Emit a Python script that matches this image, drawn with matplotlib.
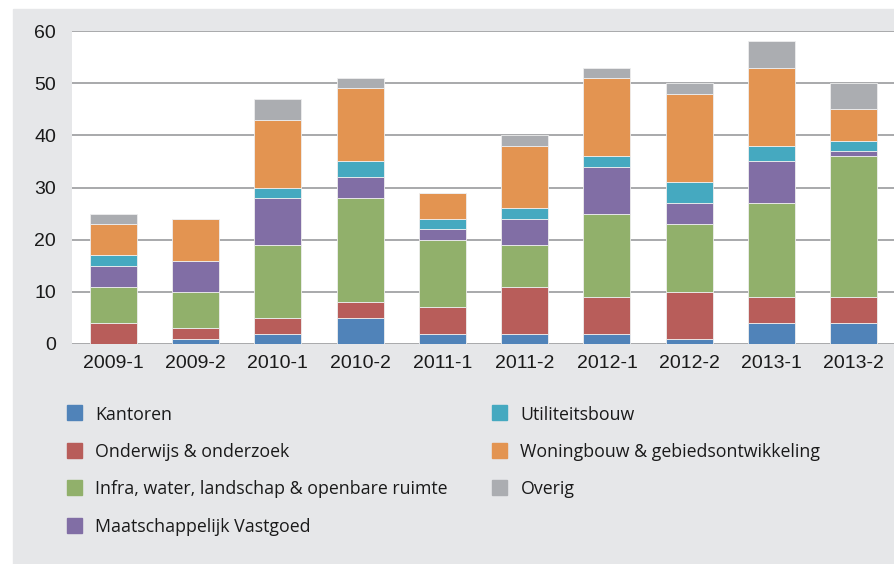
import numpy as np
import matplotlib.pyplot as plt
from matplotlib.patches import Rectangle

periods = ['2009-1', '2009-2', '2010-1', '2010-2', '2011-1',
           '2011-2', '2012-1', '2012-2', '2013-1', '2013-2']

kantoren = [0, 1, 2, 5, 2, 2, 2, 1, 4, 4]
onderwijs = [4, 2, 3, 3, 5, 9, 7, 9, 5, 5]
infra = [7, 7, 14, 20, 13, 8, 16, 13, 18, 27]
maatschappelijk = [4, 6, 9, 4, 2, 5, 9, 4, 8, 1]
utiliteit = [2, 0, 2, 3, 2, 2, 2, 4, 3, 2]
woningbouw = [6, 8, 13, 14, 5, 12, 15, 17, 15, 6]
overig = [2, 0, 4, 2, 0, 2, 2, 2, 5, 5]

names = ['Kantoren', 'Onderwijs & onderzoek',
         'Infra, water, landschap & openbare ruimte',
         'Maatschappelijk Vastgoed', 'Utiliteitsbouw',
         'Woningbouw & gebiedsontwikkeling', 'Overig']
colors = ['#5083b9', '#b85d5a', '#91b06b', '#816ea5',
          '#45a9c0', '#e39451', '#abadb1']
series = [kantoren, onderwijs, infra, maatschappelijk,
          utiliteit, woningbouw, overig]

W, H = 895, 564
fig = plt.figure(figsize=(W / 100, H / 100), dpi=100)
fig.patch.set_facecolor('white')
fig.add_artist(Rectangle((13 / W, 0), 1 - 13 / W, (H - 9) / H,
                         transform=fig.transFigure, color='#e6e7e9',
                         zorder=-5))

ax = fig.add_axes([72 / W, (H - 344) / H, (W - 72) / W, 313 / H])
ax.set_zorder(2)
ax.set_facecolor('white')

x = np.arange(len(periods))
bottom = np.zeros(len(periods))
for vals, name, c in zip(series, names, colors):
    ax.bar(x, vals, 0.57, bottom=bottom, color=c, label=name,
           edgecolor='#eeeeee', linewidth=0.6, zorder=3)
    bottom += np.array(vals)

ax.set_xlim(-0.5, 9.5)
ax.set_ylim(0, 60)
ax.set_yticks(range(0, 61, 10))
ax.set_xticks(x)
ax.set_xticklabels(periods)
ax.grid(axis='y', color='#9a9b9d', linewidth=1.2, zorder=1)
ax.tick_params(length=0, labelsize=14, colors='#1a1a1a')
ax.tick_params(axis='y', pad=11.5)
ax.tick_params(axis='x', pad=8)
for lbl in ax.get_xticklabels() + ax.get_yticklabels():
    lbl.set_family('Liberation Sans')
for s in ax.spines.values():
    s.set_visible(False)

# legend, two columns drawn by hand (4 + 3 entries)
col_x = [67, 492]
row_y = [412.5, 450, 487.5, 525]
for i, (name, c) in enumerate(zip(names, colors)):
    col = 0 if i < 4 else 1
    row = i if i < 4 else i - 4
    sx, sy = col_x[col], row_y[row]
    fig.add_artist(Rectangle((sx / W, 1 - (sy + 7.5) / H), 15 / W, 15 / H,
                             transform=fig.transFigure, color=c))
    fig.text((sx + 28.5) / W, 1 - sy / H, name, ha='left', va='center_baseline',
             family='Open Sans', fontsize=12.8, color='#1a1a1a')

plt.savefig('out.png', dpi=100)
